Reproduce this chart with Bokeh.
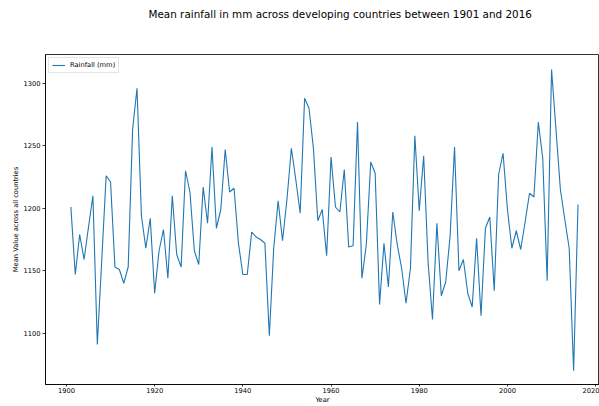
from bokeh.plotting import figure
from bokeh.models import Range1d, FixedTicker, Legend, LegendItem, ColumnDataSource, Title
from bokeh.embed import file_html
from bokeh.resources import INLINE

years = list(range(1901, 2017))
rainfall = [
    1201, 1147, 1179, 1159, 1185, 1210, 1091, 1158, 1226, 1221,
    1153, 1151, 1140, 1153, 1263, 1296, 1194, 1168, 1192, 1132,
    1166, 1183, 1144, 1210, 1163, 1153, 1230, 1213, 1166, 1155,
    1217, 1188, 1249, 1184, 1199, 1247, 1213, 1216, 1172, 1147,
    1147, 1181, 1177, 1175, 1172, 1098, 1168, 1206, 1174, 1207,
    1248, 1223, 1196, 1288, 1280, 1248, 1190, 1199, 1162, 1241,
    1201, 1197, 1231, 1169, 1170, 1269, 1144, 1171, 1237, 1228,
    1123, 1172, 1137, 1197, 1171, 1152, 1124, 1152, 1258, 1198,
    1242, 1157, 1111, 1188, 1130, 1141, 1178, 1249, 1150, 1159,
    1132, 1121, 1176, 1114, 1184, 1193, 1134, 1227, 1244, 1199,
    1168, 1182, 1167, 1189, 1212, 1209, 1269, 1240, 1142, 1311,
    1263, 1215, 1191, 1168, 1070, 1203,
]
x_ticks = [1900, 1920, 1940, 1960, 1980, 2000, 2020]
y_ticks = [1100, 1150, 1200, 1250, 1300]
title_text = "Mean rainfall in mm across developing countries between 1901 and 2016"
x_label = "Year"
y_label = "Mean Value across all countries"
series_name = "Rainfall (mm)"

FONT = "DejaVu Sans"
SMALL = "6.7px"

p = figure(width=599, height=406, output_backend="svg", toolbar_location=None,
           x_range=Range1d(1895.25, 2020.87), y_range=Range1d(1059, 1323),
           min_border_left=45, min_border_right=0, min_border_top=54,
           min_border_bottom=0)
p.title = None

for ax in (p.xaxis[0], p.yaxis[0]):
    ax.axis_line_color = "#000000"
    ax.axis_line_width = 0.8
    ax.major_tick_line_color = "#000000"
    ax.major_tick_line_width = 0.8
    ax.major_tick_in = 0
    ax.minor_tick_line_color = None
    ax.major_label_text_font = FONT
    ax.major_label_text_font_size = SMALL
    ax.major_label_text_color = "#000000"
    ax.axis_label_text_font = FONT
    ax.axis_label_text_font_size = SMALL
    ax.axis_label_text_font_style = "normal"
    ax.axis_label_text_color = "#000000"

p.xaxis.major_tick_out = 2
p.xaxis.major_label_standoff = 1
p.yaxis.major_tick_out = 3
p.yaxis.major_label_standoff = 2
p.xaxis.axis_label_standoff = 0
p.yaxis.axis_label_standoff = 0
p.xaxis.ticker = FixedTicker(ticks=x_ticks)
p.yaxis.ticker = FixedTicker(ticks=y_ticks)
p.xaxis.axis_label = x_label
p.yaxis.axis_label = y_label
p.xgrid.visible = False
p.ygrid.visible = False
p.outline_line_color = "#000000"
p.outline_line_width = 0.8

src = ColumnDataSource(dict(year=years, rain=rainfall))
r = p.line("year", "rain", source=src, line_color="#1f77b4", line_width=1.1)

legend = Legend(items=[LegendItem(label=series_name, renderers=[r])],
                location="top_left", margin=3, padding=3, spacing=0,
                glyph_width=13, glyph_height=8, label_height=8, label_width=10,
                label_standoff=5, label_text_font=FONT, label_text_font_size=SMALL,
                label_text_color="#000000", border_line_color="#cccccc",
                border_line_width=1, background_fill_alpha=0.8)
p.add_layout(legend)

# spacer between the frame and the title (closest to the frame)
spacer = Title(text=" ", text_font=FONT, text_font_size="10px", standoff=16,
               text_color="#ffffff")
p.add_layout(spacer, "above")
main_title = Title(text=title_text, text_font=FONT, text_font_size="10.4px",
                   text_font_style="normal", text_color="#000000",
                   align="left", offset=103, vertical_align="top", standoff=8)
p.add_layout(main_title, "above")

open("out.html", "w").write(file_html(p, INLINE))
